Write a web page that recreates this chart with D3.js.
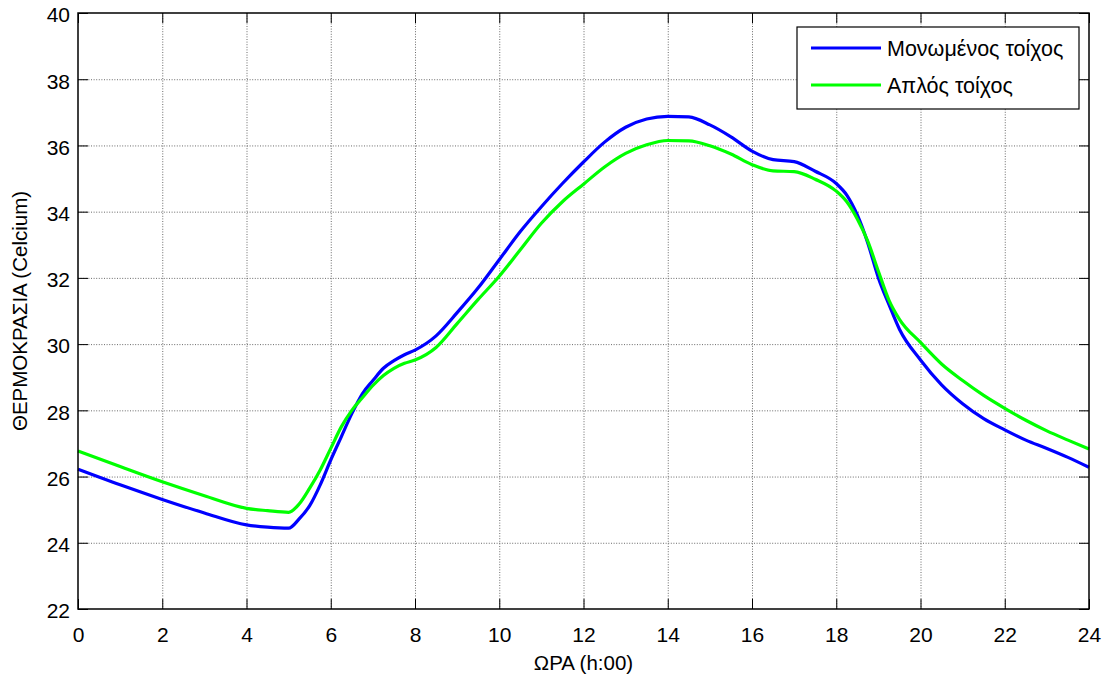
<!DOCTYPE html>
<html>
<head>
<meta charset="utf-8">
<script src="https://cdn.jsdelivr.net/npm/d3@7"></script>
<style>
  html, body { margin: 0; padding: 0; background: #fff; }
  svg { display: block; font-family: "Liberation Sans", Arial, sans-serif; }
</style>
</head>
<body>
<svg id="chart" width="1109" height="683"></svg>
<script>
// Hourly indoor temperature for two wall types
const hours = [0, 1, 2, 3, 4, 4.5, 5, 5.25, 5.5, 5.75, 6, 6.25, 6.5, 6.75, 7, 7.25, 7.5, 7.75, 8,
  8.5, 9, 9.5, 10, 10.5, 11, 11.5, 12, 12.5, 13, 13.5, 14, 14.5, 15, 15.5, 16, 16.5, 17, 17.5,
  18, 18.25, 18.5, 18.75, 19, 19.25, 19.5, 20, 20.5, 21, 21.5, 22, 22.5, 23, 23.5, 24];

const insulatedWall = [26.22, 25.75, 25.31, 24.9, 24.54, 24.47, 24.44, 24.72, 25.12, 25.75, 26.5,
  27.2, 27.9, 28.5, 28.9, 29.27, 29.5, 29.68, 29.82, 30.25, 30.95, 31.7, 32.55, 33.4, 34.15,
  34.85, 35.5, 36.1, 36.55, 36.8, 36.88, 36.86, 36.62, 36.26, 35.83, 35.57, 35.51, 35.22, 34.85,
  34.5, 33.9, 33.05, 32.0, 31.2, 30.45, 29.52, 28.77, 28.2, 27.75, 27.41, 27.1, 26.85, 26.58, 26.28];

const plainWall = [26.77, 26.3, 25.84, 25.42, 25.04, 24.97, 24.92, 25.17, 25.65, 26.2, 26.85,
  27.5, 28.0, 28.38, 28.75, 29.05, 29.27, 29.42, 29.52, 29.9, 30.62, 31.35, 32.05, 32.85, 33.65,
  34.3, 34.83, 35.35, 35.76, 36.02, 36.15, 36.14, 35.99, 35.74, 35.42, 35.23, 35.21, 34.98, 34.62,
  34.3, 33.78, 33.1, 32.2, 31.33, 30.75, 30.05, 29.4, 28.9, 28.45, 28.06, 27.7, 27.38, 27.1, 26.83];

const seriesNames = ["Μονωμένος τοίχος", "Απλός τοίχος"];
const seriesColors = ["#0000ff", "#00ff00"];
const xTicks = [0, 2, 4, 6, 8, 10, 12, 14, 16, 18, 20, 22, 24];
const yTicks = [22, 24, 26, 28, 30, 32, 34, 36, 38, 40];
const xTitle = "ΩΡΑ (h:00)";
const yTitle = "ΘΕΡΜΟΚΡΑΣΙΑ (Celcium)";

const svg = d3.select("#chart");
const plotL = 78, plotR = 1089, plotT = 13, plotB = 609;

const x = d3.scaleLinear().domain([0, 24]).range([plotL, plotR]);
const y = d3.scaleLinear().domain([22, 40]).range([plotB, plotT]);

// grid
const grid = svg.append("g");
grid.selectAll("line.gx").data(xTicks.slice(1, -1)).join("line")
  .attr("x1", d => x(d) + 0.5).attr("x2", d => x(d) + 0.5)
  .attr("y1", plotT).attr("y2", plotB)
  .attr("stroke", "#6a6a6a").attr("stroke-width", 1).attr("stroke-dasharray", "1,1.6");
grid.selectAll("line.gy").data(yTicks.slice(1, -1)).join("line")
  .attr("y1", d => y(d) + 0.5).attr("y2", d => y(d) + 0.5)
  .attr("x1", plotL).attr("x2", plotR)
  .attr("stroke", "#6a6a6a").attr("stroke-width", 1).attr("stroke-dasharray", "1,1.6");

// data lines
const line = d3.line().x(d => x(d[0])).y(d => y(d[1])).curve(d3.curveMonotoneX);
[insulatedWall, plainWall].forEach((vals, i) => {
  svg.append("path")
    .datum(hours.map((h, k) => [h, vals[k]]))
    .attr("fill", "none")
    .attr("stroke", seriesColors[i])
    .attr("stroke-width", 3.2)
    .attr("stroke-linejoin", "round")
    .attr("d", line);
});

// axes with inward ticks on all four sides
const tickLen = 10;
const axB = svg.append("g").attr("transform", `translate(0,${plotB})`)
  .call(d3.axisBottom(x).tickValues(xTicks).tickSize(-tickLen).tickPadding(18).tickFormat(d3.format("d")));
const axT = svg.append("g").attr("transform", `translate(0,${plotT})`)
  .call(d3.axisTop(x).tickValues(xTicks).tickSize(-tickLen).tickFormat(""));
const axL = svg.append("g").attr("transform", `translate(${plotL},0)`)
  .call(d3.axisLeft(y).tickValues(yTicks).tickSize(-tickLen).tickPadding(8).tickFormat(d3.format("d")));
const axR = svg.append("g").attr("transform", `translate(${plotR},0)`)
  .call(d3.axisRight(y).tickValues(yTicks).tickSize(-tickLen).tickFormat(""));

[axB, axT, axL, axR].forEach(a => {
  a.select(".domain").remove();
  a.selectAll(".tick line").attr("stroke", "#000").attr("stroke-width", 1);
  a.selectAll("text").attr("font-size", 21).attr("fill", "#000")
    .attr("font-family", "Liberation Sans, Arial, sans-serif");
});
axL.selectAll("text").attr("dy", "0.42em");

// frame
svg.append("rect")
  .attr("x", plotL).attr("y", plotT).attr("width", plotR - plotL).attr("height", plotB - plotT)
  .attr("fill", "none").attr("stroke", "#000").attr("stroke-width", 1.5);

// axis titles
svg.append("text")
  .attr("x", (plotL + plotR) / 2).attr("y", 670)
  .attr("text-anchor", "middle").attr("font-size", 20.5).text(xTitle);
svg.append("text")
  .attr("transform", `translate(27,${(plotT + plotB) / 2}) rotate(-90)`)
  .attr("text-anchor", "middle").attr("font-size", 20.5).text(yTitle);

// legend
const lg = svg.append("g");
lg.append("rect")
  .attr("x", 797).attr("y", 27).attr("width", 282).attr("height", 82)
  .attr("fill", "#fff").attr("stroke", "#000").attr("stroke-width", 1.2);
seriesNames.forEach((name, i) => {
  const yy = 48 + i * 37;
  lg.append("line").attr("x1", 811).attr("x2", 881).attr("y1", yy).attr("y2", yy)
    .attr("stroke", seriesColors[i]).attr("stroke-width", 3.2);
  lg.append("text").attr("x", 887).attr("y", yy).attr("dy", "0.36em")
    .attr("font-size", 21.5).text(name);
});
</script>
</body>
</html>
